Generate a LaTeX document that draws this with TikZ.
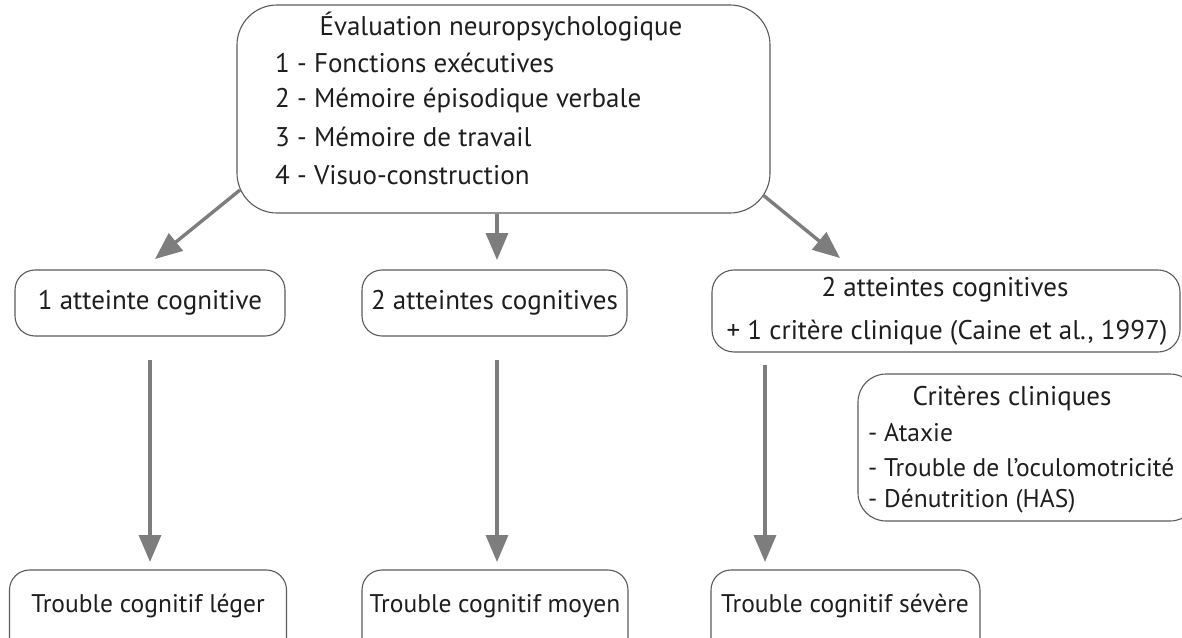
\documentclass[tikz,border=0pt]{standalone}
\usepackage{fontspec}
\setmainfont{PT Sans}
\usetikzlibrary{arrows.meta}
\definecolor{ln}{RGB}{90,90,90}
\definecolor{ar}{RGB}{125,125,125}
\definecolor{tx}{RGB}{30,30,30}
\begin{document}
\begin{tikzpicture}[x=1pt,y=-1pt,
  box/.style={draw=ln, line width=1.1pt, rounded corners=22pt, inner sep=0pt},
  txt/.style={inner sep=0pt, font=\fontsize{27}{31}\selectfont, text=tx},
  smalltxt/.style={txt, font=\fontsize{25.5}{30}\selectfont},
  arr/.style={draw=ar, line width=3.4pt, -{Triangle[width=22pt,length=27pt]}}]
\useasboundingbox (0,0) rectangle (1182,637);
\clip (0,0) rectangle (1182,637);
% top box
\node[box, minimum width=533, minimum height=208, rounded corners=40pt] (eval) at (503.5,109) {};
\node[txt] (t0) at (501,27) {Évaluation neuropsychologique};
\node[txt, anchor=west] (t1) at (275,63) {1 - Fonctions exécutives};
\node[txt, anchor=west] (t2) at (275,100) {2 - Mémoire épisodique verbale};
\node[txt, anchor=west] (t3) at (275,137) {3 - Mémoire de travail};
\node[txt, anchor=west] (t4) at (275,175) {4 - Visuo-construction};
% middle row
\node[box, minimum width=270, minimum height=66, rounded corners=20pt] (a1) at (150,303) {};
\node[txt] (a1t) at (150,303) {1 atteinte cognitive};
\node[box, minimum width=265, minimum height=66, rounded corners=20pt] (a2) at (494.5,303) {};
\node[txt] (a2t) at (494.5,303) {2 atteintes cognitives};
\node[box, minimum width=468, minimum height=82, rounded corners=22pt] (a3) at (946,311) {};
\node[txt] (a3t1) at (945,290) {2 atteintes cognitives};
\node[txt] (a3t2) at (947,333) {+ 1 critère clinique (Caine et al., 1997)};
% criteria box
\node[box, minimum width=340, minimum height=147, rounded corners=28pt] (cc) at (1028,447.5) {};
\node[txt] (cct) at (1012,398) {Critères cliniques};
\node[smalltxt, anchor=west] (c1) at (868,433) {- Ataxie};
\node[smalltxt, anchor=west] (c2) at (868,467) {- Trouble de l’oculomotricité};
\node[smalltxt, anchor=west] (c3) at (868,501) {- Dénutrition (HAS)};
% bottom row
\node[box, minimum width=277, minimum height=90, rounded corners=20pt] (b1) at (148,615) {};
\node[smalltxt] (b1t) at (148,606) {Trouble cognitif léger};
\node[box, minimum width=266, minimum height=90, rounded corners=20pt] (b2) at (495,615) {};
\node[smalltxt] (b2t) at (495,606) {Trouble cognitif moyen};
\node[box, minimum width=269, minimum height=90, rounded corners=20pt] (b3) at (845.5,615) {};
\node[smalltxt] (b3t) at (845,606) {Trouble cognitif sévère};
% arrows
\coordinate (s1) at (240,190); \coordinate (e1) at (155,259);
\coordinate (s2) at (497,214); \coordinate (e2) at (497,260);
\coordinate (s3) at (763,195); \coordinate (e3) at (840,258);
\coordinate (v1s) at (150,360); \coordinate (v1e) at (150,562);
\coordinate (v2s) at (497,360); \coordinate (v2e) at (497,562);
\coordinate (v3s) at (765,365); \coordinate (v3e) at (765,562);
\draw[arr] (s1) -- (e1);
\draw[arr] (s2) -- (e2);
\draw[arr] (s3) -- (e3);
\draw[arr] (v1s) -- (v1e);
\draw[arr] (v2s) -- (v2e);
\draw[arr] (v3s) -- (v3e);
\end{tikzpicture}
\end{document}
